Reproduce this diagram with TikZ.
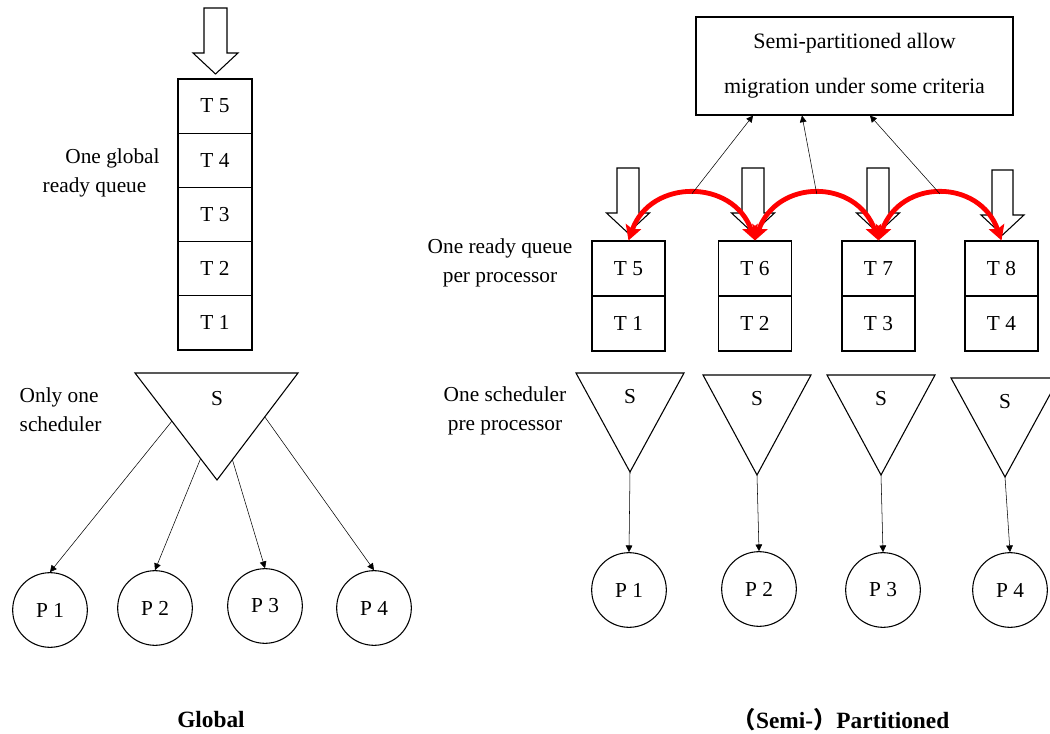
\documentclass[tikz,border=0pt]{standalone}
\usepackage{fontspec}
\setmainfont{Liberation Serif}
\newfontfamily\cjk{Noto Sans CJK SC}
\usetikzlibrary{arrows.meta,calc}
\newcommand\blkarrow[6]{\draw[outline,fill=white] (#1-#2,#4) -- (#1+#2,#4) -- (#1+#2,#5) -- (#1+#3,#5) -- (#1,#6) -- (#1-#3,#5) -- (#1-#2,#5) -- cycle;}
\tikzset{
  outline/.style={draw=black,line width=0.8pt},
  lbl/.style={font=\fontsize{16}{22}\selectfont},
  qboxl/.style={outline,lbl,minimum width=55.5pt,minimum height=40.65pt,inner sep=0pt},
  qboxr/.style={outline,lbl,minimum width=54.75pt,minimum height=41.25pt,inner sep=0pt},
  proc/.style={outline,lbl,circle,minimum size=56pt,inner sep=0pt},
  conn/.style={line width=0.4pt,-{Triangle[length=5pt,width=5pt]}},
  migarc/.style={draw=red,line width=3.6pt,{Stealth[length=11pt,width=12pt,inset=2pt]}-{Stealth[length=11pt,width=12pt,inset=2pt]}},
  ttl/.style={font=\fontsize{17.5}{20}\selectfont\bfseries}
}
\begin{document}
\begin{tikzpicture}[x=0.75pt,y=-0.75pt]
\useasboundingbox (0,0) rectangle (1050,734);
% ---------------- Global ----------------
\blkarrow{215.5}{11.5}{22.5}{8}{53}{74}
\node[qboxl] (g5) at (215,106.1) {T 5};
\node[qboxl] (g4) at (215,160.3) {T 4};
\node[qboxl] (g3) at (215,214.5) {T 3};
\node[qboxl] (g2) at (215,268.7) {T 2};
\node[qboxl] (g1) at (215,322.9) {T 1};
\node[lbl,align=left,anchor=west] (glab) at (38,173) {\hspace*{17pt}One global\\ready queue};
\draw[outline] (135,373) coordinate (gtl) -- (298,373) coordinate (gtr) -- (217,480) coordinate (gtip) -- cycle;
\node[lbl] (gS) at (217,399) {S};
\node[lbl,align=left,anchor=west] (slab) at (15,410) {Only one\\scheduler};
\coordinate (gs1) at ($(gtl)!0.45!(gtip)$);
\coordinate (gs2) at ($(gtl)!0.80!(gtip)$);
\coordinate (gs3) at ($(gtr)!0.81!(gtip)$);
\coordinate (gs4) at ($(gtr)!0.41!(gtip)$);
\node[proc] (gP1) at (50,610) {P 1};
\node[proc] (gP2) at (155,608) {P 2};
\node[proc] (gP3) at (265,606) {P 3};
\node[proc] (gP4) at (374,608) {P 4};
\draw[conn] (gs1) -- (gP1.north);
\draw[conn] (gs2) -- (gP2.north);
\draw[conn] (gs3) -- (gP3.north);
\draw[conn] (gs4) -- (gP4.north);
\node[ttl] (gtitle) at (211,720) {Global};
% ---------------- Semi-partitioned ----------------
\node[outline,lbl,font=\fontsize{16.5}{33.75}\selectfont,align=center,minimum width=237.75pt,minimum height=73.5pt,inner sep=0pt] (mig) at (854.5,66) {Semi-partitioned allow\\migration under some criteria};
\blkarrow{628}{11}{21.5}{168}{213}{233}
\blkarrow{753}{11}{21.5}{168}{213}{233}
\blkarrow{878}{11}{21.5}{168}{213}{233}
\blkarrow{1002.5}{10.5}{21.5}{170}{215}{235}
\node[qboxr] (q1a) at (628.5,268.5) {T 5};
\node[qboxr] (q1b) at (628.5,323.5) {T 1};
\node[qboxr] (q2a) at (755,268.5) {T 6};
\node[qboxr] (q2b) at (755,323.5) {T 2};
\node[qboxr] (q3a) at (878.5,268.5) {T 7};
\node[qboxr] (q3b) at (878.5,323.5) {T 3};
\node[qboxr] (q4a) at (1001.5,268.5) {T 8};
\node[qboxr] (q4b) at (1001.5,323.5) {T 4};
\node[lbl,align=center] (rlab) at (500,263) {One ready queue\\per processor};
% red migration arcs
\draw[migarc] (q1a.north) .. controls +(22,-62) and +(-22,-62) .. coordinate[pos=0.5] (m1) (q2a.north);
\draw[migarc] (q2a.north) .. controls +(22,-62) and +(-22,-62) .. coordinate[pos=0.5] (m2) (q3a.north);
\draw[migarc] (q3a.north) .. controls +(22,-62) and +(-22,-62) .. coordinate[pos=0.5] (m3) (q4a.north);
\draw[conn] (m1) -- ([xshift=-76.1pt]mig.south);
\draw[conn] (m2) -- ([xshift=-39.4pt]mig.south);
\draw[conn] (m3) -- ([xshift=11.6pt]mig.south);
% schedulers
\foreach \i/\cx/\ty/\py in {1/630/373/472,2/757/375/475,3/881/375/475,4/1005/378/477}{
  \draw[outline] (\cx-54,\ty) -- (\cx+54,\ty) -- (\cx,\py) coordinate (tip\i) -- cycle;
  \node[lbl] (rS\i) at (\cx,\ty+24) {S};
}
\node[lbl,align=center] (rslab) at (505,411) {One scheduler\\pre processor};
\node[proc] (rP1) at (629,590) {P 1};
\node[proc] (rP2) at (759,589) {P 2};
\node[proc] (rP3) at (883,590) {P 3};
\node[proc] (rP4) at (1010,590) {P 4};
\draw[conn] (tip1) -- (rP1.north);
\draw[conn] (tip2) -- (rP2.north);
\draw[conn] (tip3) -- (rP3.north);
\draw[conn] (tip4) -- (rP4.north);
\node[ttl] (rtitle) at (841,720) {{\cjk\bfseries （}Semi-{\cjk\bfseries ）}Partitioned};
\end{tikzpicture}
\end{document}
